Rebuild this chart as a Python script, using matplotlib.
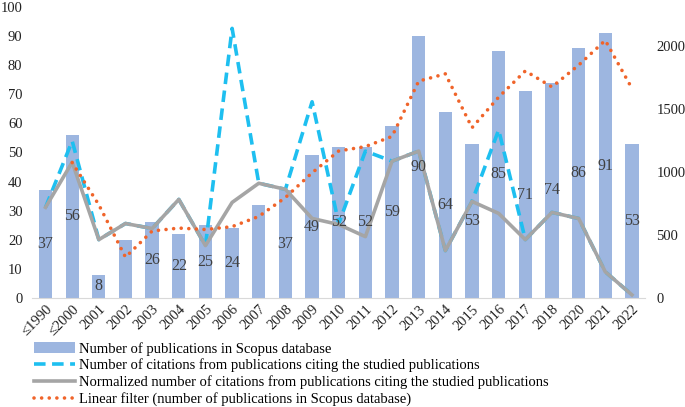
import matplotlib
import numpy as np

matplotlib.use('Agg')
import matplotlib.pyplot as plt

plt.rcParams['font.family'] = ['Liberation Serif', 'DejaVu Serif']

years = ['≤1990', '≤2000', '2001', '2002', '2003', '2004', '2005', '2006', '2007', '2008',
         '2009', '2010', '2011', '2012', '2013', '2014', '2015', '2016', '2017', '2018',
         '2020', '2021', '2022']
publications = [37, 56, 8, 20, 26, 22, 25, 24, 32, 37, 49, 52, 52, 59, 90, 64, 53, 85, 71, 74, 86, 91, 53]
# labels that appear on the bars (None = no label shown)
bar_labels = [37, 56, 8, None, 26, 22, 25, 24, None, 37, 49, 52, 52, 59, 90, 64, 53, 85, 71, 74, 86, 91, 53]
citations = [718, 1244, 462, 590, 550, 781, 415, 2137, 909, 861, 1555, 590, 1164, 1084,
             1164, 375, 765, 1332, 462, 678, 630, 207, 24]
normalized = [718, 1076, 462, 590, 550, 781, 415, 757, 909, 861, 630, 582, 486, 1084,
              1164, 375, 765, 670, 462, 678, 630, 207, 24]
linear_filter = [np.nan, 46.5, 32, 14, 23, 24, 23.5, 24.5, 28, 34.5, 43, 50.5, 52, 55.5,
                 74.5, 77, 58.5, 69, 78, 72.5, 80, 88.5, 72]

x = np.arange(len(years))

fig = plt.figure(figsize=(6.85, 4.07), dpi=100)
ax = fig.add_axes([0.047, 0.268, 0.895, 0.715])
ax2 = ax.twinx()
# lines of ax2 must sit over the bars
ax2.set_zorder(ax.get_zorder() + 1)
ax2.patch.set_visible(False)

bars = ax.bar(x, publications, width=0.5, color='#9db6e0', zorder=1,
              label='Number of publications in Scopus database')

l1, = ax2.plot(x, citations, color='#1ebff0', lw=2.6, ls=(0, (3.2, 1.8)), zorder=2,
               label='Number of citations from publications citing the studied publications')
l2, = ax2.plot(x, normalized, color='#a5a5a5', lw=2.6, zorder=3,
               label='Normalized number of citations from publications citing the studied publications')
l3, = ax2.plot(x, linear_filter, color='#f0642a', lw=2.6, ls=(0, (0.01, 2.1)),
               dash_capstyle='round', zorder=4, transform=ax.transData,
               label='Linear filter (number of publications in Scopus database)')
for xi, v, lab in zip(x, publications, bar_labels):
    if lab is not None:
        ax2.text(xi, v / 2, str(lab), ha='center', va='center', fontsize=11.5,
                 color='#404040', zorder=5, transform=ax.transData)

ax.set_xlim(-0.5, len(years) - 0.5)
ax.set_ylim(0, 100)
ax.set_yticks(range(0, 101, 10))
ax2.set_ylim(0, 2307)
ax2.set_yticks(range(0, 2001, 500))

ax.set_xticks(x)
ax.set_xticklabels(years, rotation=45, ha='right', rotation_mode='anchor')
for a in (ax, ax2):
    a.tick_params(length=0, labelsize=10.5, colors='#222222')
    for s in a.spines.values():
        s.set_visible(False)
ax.tick_params(axis='y', pad=7)
ax2.tick_params(axis='y', pad=8)
ax.spines['bottom'].set_visible(True)
ax.spines['bottom'].set_color('#d9d9d9')

fig.legend(handles=[bars, l1, l2, l3], loc='upper left', bbox_to_anchor=(0.05, 0.16),
           frameon=False, fontsize=10.5, handlelength=2.8, handletextpad=0.3,
           labelspacing=0.2, borderpad=0, borderaxespad=0)

fig.savefig('out.png', dpi=100)
